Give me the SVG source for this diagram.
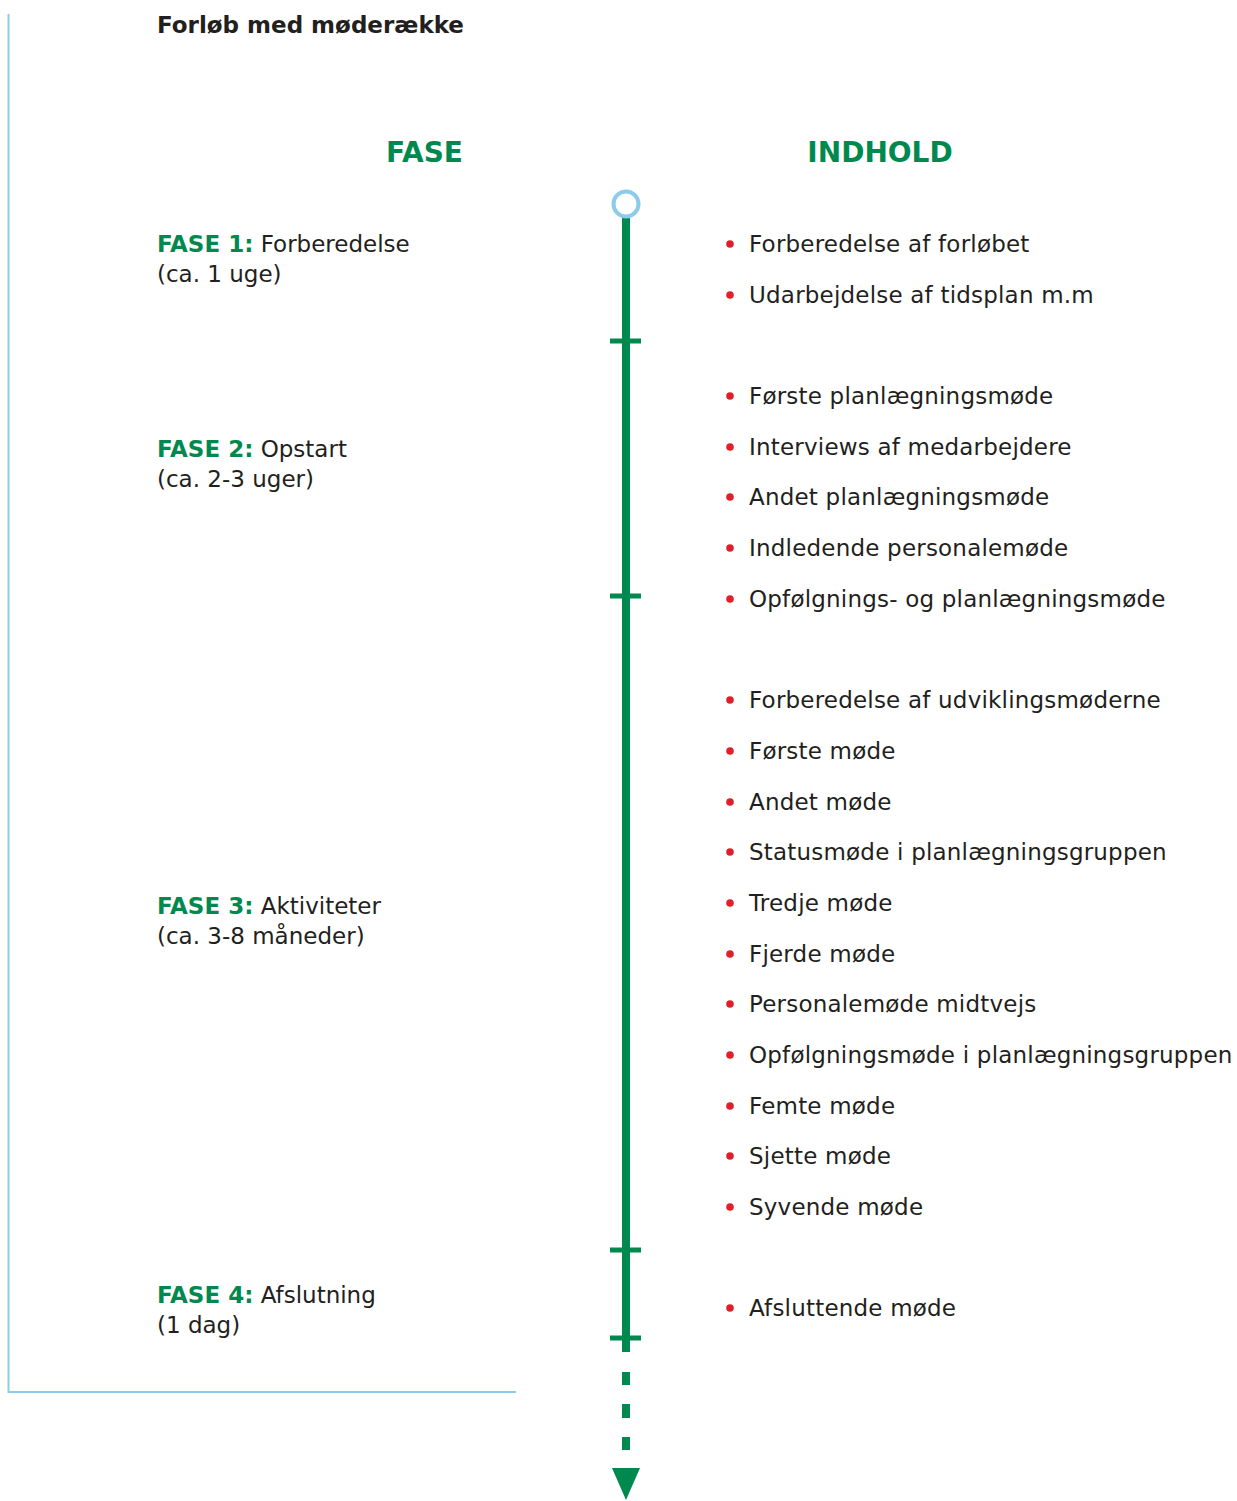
<svg xmlns="http://www.w3.org/2000/svg" width="1237" height="1501" viewBox="0 0 1237 1501">
<style>
text{font-family:"DejaVu Sans","Liberation Sans",sans-serif;font-size:23px;fill:#231f20}
.b{font-weight:bold}
.g{fill:#00894f;font-weight:bold}
.h{fill:#00894f;font-weight:bold;font-size:28px;text-anchor:middle}
.it{letter-spacing:0.2px}
.dot{fill:#e01f2a}
.tick{fill:#00894f}
</style>
<g id="frame">
<polyline points="8.5,14 8.5,1392 516,1392" fill="none" stroke="#8ccbe9" stroke-width="2"/>
</g>
<text id="title" class="b" x="157" y="33">Forløb med møderække</text>
<text class="h" x="424.5" y="162">FASE</text>
<text class="h" x="880" y="162">INDHOLD</text>
<g id="connectors">
<line x1="626" y1="218" x2="626" y2="1352" stroke="#00894f" stroke-width="8"/>
<rect class="tick" x="610" y="338.5" width="31" height="5"/>
<rect class="tick" x="610" y="593.5" width="31" height="5"/>
<rect class="tick" x="610" y="1247.5" width="31" height="5"/>
<rect class="tick" x="610" y="1335.5" width="31" height="5"/>
<rect class="tick" x="622" y="1372" width="8" height="13"/>
<rect class="tick" x="622" y="1404" width="8" height="14"/>
<rect class="tick" x="622" y="1437" width="8" height="13"/>
<polygon class="tick" points="612,1468 640,1468 626,1500"/>
</g>
<g id="start">
<circle cx="626" cy="204" r="12.5" fill="#fff" stroke="#8ccbe9" stroke-width="4"/>
</g>
<g id="fase1">
<text x="157" y="252"><tspan class="g">FASE 1:</tspan> Forberedelse</text>
<text x="157" y="282">(ca. 1 uge)</text>
</g>
<g id="fase2">
<text x="157" y="457"><tspan class="g">FASE 2:</tspan> Opstart</text>
<text x="157" y="487">(ca. 2-3 uger)</text>
</g>
<g id="fase3">
<text x="157" y="914"><tspan class="g">FASE 3:</tspan> Aktiviteter</text>
<text x="157" y="944">(ca. 3-8 måneder)</text>
</g>
<g id="fase4">
<text x="157" y="1303"><tspan class="g">FASE 4:</tspan> Afslutning</text>
<text x="157" y="1333">(1 dag)</text>
</g>
<g id="indhold1">
<circle class="dot" cx="730" cy="244" r="3.8"/><text class="it" x="749" y="252">Forberedelse af forløbet</text>
<circle class="dot" cx="730" cy="295" r="3.8"/><text class="it" x="749" y="303">Udarbejdelse af tidsplan m.m</text>
</g>
<g id="indhold2">
<circle class="dot" cx="730" cy="396" r="3.8"/><text class="it" x="749" y="404">Første planlægningsmøde</text>
<circle class="dot" cx="730" cy="447" r="3.8"/><text class="it" x="749" y="455">Interviews af medarbejdere</text>
<circle class="dot" cx="730" cy="497" r="3.8"/><text class="it" x="749" y="505">Andet planlægningsmøde</text>
<circle class="dot" cx="730" cy="548" r="3.8"/><text class="it" x="749" y="556">Indledende personalemøde</text>
<circle class="dot" cx="730" cy="599" r="3.8"/><text class="it" x="749" y="607">Opfølgnings- og planlægningsmøde</text>
</g>
<g id="indhold3">
<circle class="dot" cx="730" cy="700" r="3.8"/><text class="it" x="749" y="708">Forberedelse af udviklingsmøderne</text>
<circle class="dot" cx="730" cy="751" r="3.8"/><text class="it" x="749" y="759">Første møde</text>
<circle class="dot" cx="730" cy="802" r="3.8"/><text class="it" x="749" y="810">Andet møde</text>
<circle class="dot" cx="730" cy="852" r="3.8"/><text class="it" x="749" y="860">Statusmøde i planlægningsgruppen</text>
<circle class="dot" cx="730" cy="903" r="3.8"/><text class="it" x="749" y="911">Tredje møde</text>
<circle class="dot" cx="730" cy="954" r="3.8"/><text class="it" x="749" y="962">Fjerde møde</text>
<circle class="dot" cx="730" cy="1004" r="3.8"/><text class="it" x="749" y="1012">Personalemøde midtvejs</text>
<circle class="dot" cx="730" cy="1055" r="3.8"/><text class="it" x="749" y="1063">Opfølgningsmøde i planlægningsgruppen</text>
<circle class="dot" cx="730" cy="1106" r="3.8"/><text class="it" x="749" y="1114">Femte møde</text>
<circle class="dot" cx="730" cy="1156" r="3.8"/><text class="it" x="749" y="1164">Sjette møde</text>
<circle class="dot" cx="730" cy="1207" r="3.8"/><text class="it" x="749" y="1215">Syvende møde</text>
</g>
<g id="indhold4">
<circle class="dot" cx="730" cy="1308" r="3.8"/><text class="it" x="749" y="1316">Afsluttende møde</text>
</g>
</svg>
